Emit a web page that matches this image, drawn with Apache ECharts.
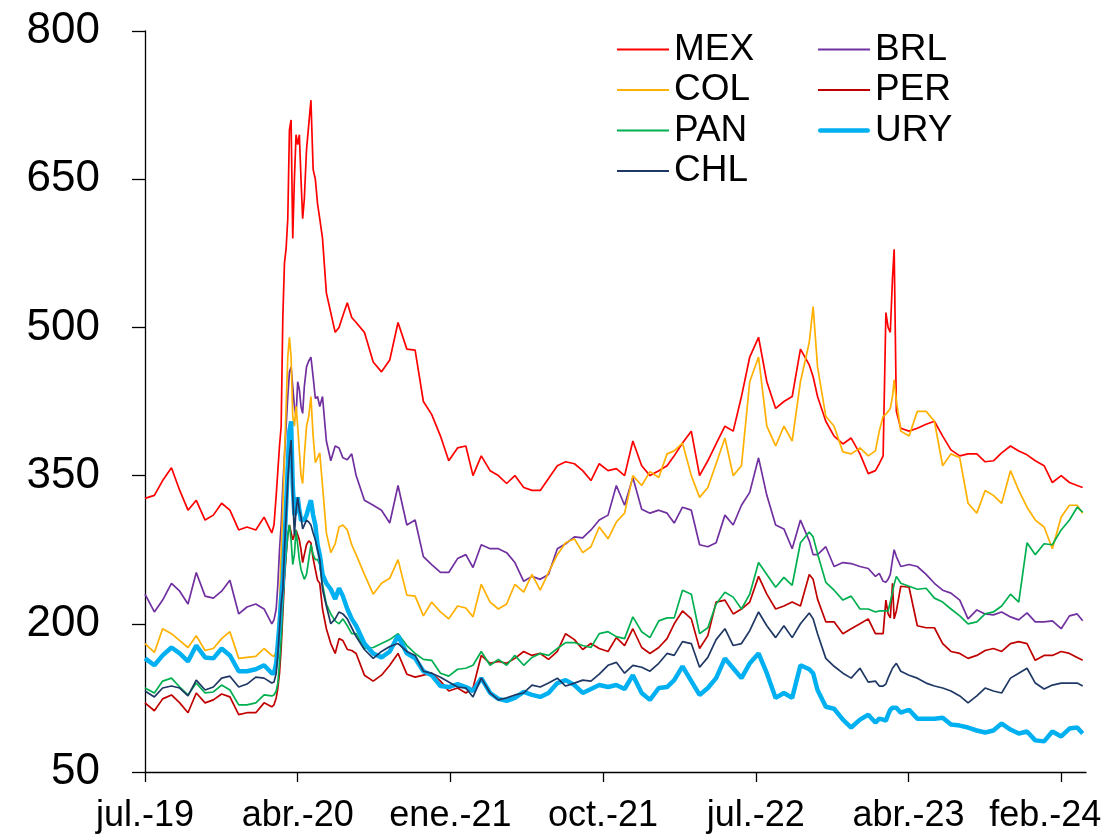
<!DOCTYPE html>
<html><head><meta charset="utf-8">
<script src="https://cdn.jsdelivr.net/npm/echarts@6/dist/echarts.min.js"></script>
<style>html,body{margin:0;padding:0;background:#fff}#c{width:1107px;height:836px}</style>
</head><body><div id="c"></div>
<script>
const dates = [
'2019-07-15','2019-08-01','2019-08-16','2019-09-01','2019-09-16','2019-10-01','2019-10-16','2019-11-01','2019-11-16','2019-12-01',
'2019-12-16','2020-01-01','2020-01-16','2020-02-01','2020-02-16','2020-03-01','2020-03-05','2020-03-09','2020-03-12','2020-03-15',
'2020-03-18','2020-03-21','2020-03-24','2020-03-27','2020-03-30','2020-04-02','2020-04-05','2020-04-08','2020-04-11','2020-04-14',
'2020-04-17','2020-04-20','2020-04-23','2020-04-26','2020-04-29','2020-05-03','2020-05-07','2020-05-11','2020-05-15','2020-05-19',
'2020-05-23','2020-05-27','2020-06-01','2020-06-08','2020-06-16','2020-06-24','2020-07-01','2020-07-08','2020-07-16','2020-07-24',
'2020-08-01','2020-08-16','2020-09-01','2020-09-16','2020-10-01','2020-10-16','2020-11-01','2020-11-16','2020-12-01','2020-12-16',
'2021-01-01','2021-01-16','2021-02-01','2021-02-16','2021-03-01','2021-03-16','2021-04-01','2021-04-16','2021-05-01','2021-05-16',
'2021-06-01','2021-06-16','2021-07-01','2021-07-16','2021-08-01','2021-08-16','2021-09-01','2021-09-16','2021-10-01','2021-10-16',
'2021-11-01','2021-11-16','2021-12-01','2021-12-16','2022-01-01','2022-01-16','2022-02-01','2022-02-16','2022-03-01','2022-03-16',
'2022-04-01','2022-04-16','2022-05-01','2022-05-16','2022-06-01','2022-06-16','2022-07-01','2022-07-16','2022-08-01','2022-08-16',
'2022-09-01','2022-09-16','2022-10-01','2022-10-16','2022-11-01','2022-11-08','2022-11-16','2022-12-01','2022-12-16','2023-01-01',
'2023-01-16','2023-02-01','2023-02-16','2023-03-01','2023-03-08','2023-03-15','2023-03-20','2023-03-24','2023-03-28','2023-04-01',
'2023-04-04','2023-04-08','2023-04-16','2023-05-01','2023-05-16','2023-06-01','2023-06-16','2023-07-01','2023-07-16','2023-08-01',
'2023-08-16','2023-09-01','2023-09-16','2023-10-01','2023-10-16','2023-11-01','2023-11-16','2023-12-01','2023-12-16','2024-01-01',
'2024-01-16','2024-02-01','2024-02-16','2024-03-01','2024-03-11'
];
const MEX = [
327,330,345,358,335,315,325,305,310,322,
315,295,298,295,308,292,300,330,355,380,
400,510,565,580,610,700,710,590,650,695,
685,695,650,610,630,680,705,730,660,650,
625,610,590,535,515,495,500,512,525,510,
505,495,465,455,467,505,478,477,425,412,
390,365,378,380,350,370,355,350,342,350,
338,335,335,347,360,364,362,355,345,362,
355,357,350,385,360,350,355,360,370,383,
395,350,365,382,400,395,430,470,490,445,
418,425,430,478,462,450,430,405,390,382,
388,372,352,355,362,370,515,500,495,550,
579,415,398,395,398,402,405,390,376,370,
372,372,364,365,373,380,375,371,365,360,
343,350,343,340,338
];
const BRL = [
230,212,224,241,233,220,252,228,226,233,
244,210,217,220,215,200,204,215,240,275,
300,340,370,400,430,455,460,440,420,410,
445,437,420,413,440,460,466,470,450,428,
430,420,430,385,365,380,378,368,366,372,
350,325,320,315,302,340,300,305,268,260,
252,252,266,270,257,280,276,276,272,262,
243,248,245,250,276,281,288,287,295,305,
310,340,320,348,316,312,315,312,302,318,
315,280,278,282,310,300,320,333,368,330,
300,296,276,305,284,270,270,278,258,262,
261,258,256,248,251,243,242,245,250,265,
275,268,258,260,258,250,241,234,231,224,
205,214,210,209,212,207,204,211,202,202,
203,195,208,210,203
];
const COL = [
180,171,195,190,183,176,188,173,175,185,
192,165,166,167,175,168,167,172,190,220,
270,320,370,420,470,490,470,410,400,420,
400,375,350,342,370,400,410,430,390,363,
368,373,340,292,272,281,298,300,295,280,
270,250,230,241,246,265,229,228,208,222,
212,205,218,216,207,240,222,215,220,240,
232,250,234,252,270,282,286,272,278,298,
286,303,312,350,340,354,348,372,375,383,
350,328,338,362,388,350,360,445,470,400,
380,400,385,445,485,521,460,410,400,374,
372,378,370,375,395,410,412,415,418,430,
447,426,395,390,415,415,405,360,372,368,
322,312,335,330,322,355,335,318,305,298,
276,308,320,320,312
];
const PER = [
120,112,124,128,120,110,130,120,123,129,
126,108,110,110,120,116,118,125,135,150,
175,210,245,270,290,300,298,285,290,295,
290,285,275,262,270,280,284,282,266,255,
244,241,215,195,180,170,185,183,174,173,
170,148,142,148,158,170,149,146,148,150,
142,132,135,130,135,168,160,162,160,165,
172,168,170,164,172,190,184,174,180,175,
172,186,178,195,176,170,176,185,200,213,
205,175,188,222,224,210,215,222,248,230,
215,218,222,218,250,245,225,202,202,190,
195,200,205,190,190,190,224,210,206,241,
205,213,238,237,198,196,196,180,172,170,
165,168,173,175,172,180,182,180,163,168,
168,172,170,166,163
];
const PAN = [
135,130,142,145,136,128,140,130,131,138,
133,118,118,120,128,127,128,132,140,160,
185,220,250,270,290,300,285,260,270,295,
280,265,255,250,245,250,265,280,270,265,
265,260,240,220,210,203,200,205,198,190,
190,175,176,180,184,190,178,170,164,163,
150,147,154,155,158,172,158,164,158,168,
158,166,170,168,175,181,181,178,176,190,
192,187,185,207,192,186,203,206,206,234,
230,190,196,220,232,227,215,230,262,250,
237,247,239,282,293,288,271,242,234,224,
228,215,215,212,213,213,213,213,222,232,
240,248,241,238,235,236,226,222,215,208,
200,202,210,212,218,230,222,282,270,281,
280,295,305,318,313
];
const URY = [
165,158,168,176,170,162,178,166,165,175,
168,152,152,154,158,150,150,160,180,200,
225,245,280,320,360,395,405,340,310,315,
328,315,305,305,305,310,318,325,310,300,
280,270,250,241,235,225,236,228,215,205,
198,180,170,166,172,188,170,165,152,148,
137,136,139,136,132,145,130,124,122,125,
131,128,126,130,140,143,138,130,134,138,
136,138,134,148,130,123,135,136,143,157,
142,128,135,145,165,155,145,160,170,150,
125,130,125,158,154,150,133,116,114,103,
95,103,108,100,104,103,102,108,113,115,
115,115,110,113,104,104,104,105,98,97,
95,92,90,92,99,93,89,91,82,81,
91,86,94,95,89
];
const CHL = [
132,126,135,137,135,127,143,133,136,145,
147,136,139,146,145,140,141,150,170,195,
220,235,275,310,345,370,386,330,290,315,
328,315,308,296,298,305,303,300,292,285,
275,265,235,218,200,205,212,210,205,196,
187,174,165,172,177,180,172,168,152,150,
146,141,136,135,126,145,130,123,125,128,
130,138,136,140,145,137,140,143,142,149,
158,161,150,158,156,152,160,170,168,182,
180,156,166,184,195,178,180,193,212,198,
186,198,186,200,211,205,190,165,157,150,
145,155,141,142,137,137,139,145,150,155,
157,160,152,148,145,140,137,135,132,127,
120,127,135,132,130,145,150,155,140,134,
138,140,140,140,137
];
const tickDates = ['2019-07-15','2020-04-17','2021-01-19','2021-10-23','2022-07-27','2023-04-30','2024-02-01'];
const tickLabels = ['jul.-19','abr.-20','ene.-21','oct.-21','jul.-22','abr.-23','feb.-24'];
const axisStart = '2019-07-15';
const axisEnd = '2024-03-17';

function ts(s){const p=s.split('-').map(Number);return Date.UTC(p[0],p[1]-1,p[2]);}
const tickTs = tickDates.map(ts);
const labelMap = {};
tickTs.forEach((t,i)=>{labelMap[t]=i;});

const FONT = 'Liberation Sans, Arial, sans-serif';
const seriesDefs = [
  {name:'MEX', data:MEX, color:'#FF0000', width:1.7},
  {name:'BRL', data:BRL, color:'#7030A0', width:1.7},
  {name:'COL', data:COL, color:'#FFB000', width:1.7},
  {name:'PER', data:PER, color:'#C00000', width:1.7},
  {name:'PAN', data:PAN, color:'#00B050', width:1.7},
  {name:'URY', data:URY, color:'#00B0F0', width:4.5},
  {name:'CHL', data:CHL, color:'#1F3864', width:1.7}
];

// legend line icons: tiny corner marks fix the box to 52x14, the bar is the visible line
const thinIcon = 'path://M0,0L0.01,0L0,0.01Z M0,6.1L52,6.1L52,7.9L0,7.9Z M52,14L51.99,14L52,13.99Z';
const thickIcon = 'path://M0,0L0.01,0L0,0.01Z M1,4.6L51,4.6A2.4,2.4 0 0 1 51,9.4L1,9.4A2.4,2.4 0 0 1 1,4.6Z M52,14L51.99,14L52,13.99Z';
function legendItem(n){return {name:n, icon: n==='URY' ? thickIcon : thinIcon};}

const chart = echarts.init(document.getElementById('c'), null, {renderer:'canvas'});
const legendCommon = {
  orient:'vertical', itemWidth:52, itemHeight:14, itemGap:3.5, padding:0,
  textStyle:{fontFamily:FONT, fontSize:37, lineHeight:37, color:'#000'},
  selectedMode:false
};
chart.setOption({
  animation:false,
  backgroundColor:'#fff',
  grid:{left:145, right:21, top:31, bottom:64, containLabel:false, outerBoundsMode:'none'},
  legend:[
    Object.assign({left:617, top:31, data:['MEX','COL','PAN','CHL'].map(legendItem)}, legendCommon),
    Object.assign({left:818, top:31, data:['BRL','PER','URY'].map(legendItem)}, legendCommon)
  ],
  xAxis:{
    type:'value', min:ts(axisStart), max:ts(axisEnd), scale:true,
    axisLine:{show:true, onZero:false, lineStyle:{color:'#000', width:1.3}},
    axisTick:{show:true, length:10, inside:false, customValues:tickTs, lineStyle:{color:'#000', width:1.3}},
    axisLabel:{customValues:tickTs, margin:26, fontFamily:FONT, fontSize:36, color:'#000',
      showMinLabel:true, showMaxLabel:true, hideOverlap:false,
      formatter:function(v){
        const i = labelMap[v];
        if (i === undefined) return '';
        return i === tickLabels.length - 1 ? '{s|' + tickLabels[i] + '}' : tickLabels[i];
      },
      rich:{s:{fontFamily:FONT, fontSize:36, color:'#000', padding:[0,32,0,0]}}},
    splitLine:{show:false}
  },
  yAxis:{
    type:'value', min:50, max:800, interval:150,
    axisLine:{show:true, lineStyle:{color:'#000', width:1.3}},
    axisTick:{show:true, length:13, inside:false, lineStyle:{color:'#000', width:1.3}},
    axisLabel:{margin:45, fontFamily:FONT, fontSize:44, color:'#000'},
    splitLine:{show:false}
  },
  series: seriesDefs.map(s=>({
    name:s.name, type:'line', symbol:'none', showSymbol:false, smooth:false,
    data: dates.map((d,i)=>[ts(d), s.data[i]]),
    lineStyle:{color:s.color, width:s.width},
    itemStyle:{color:s.color},
    emphasis:{disabled:true}
  }))
});
</script>
</body></html>
